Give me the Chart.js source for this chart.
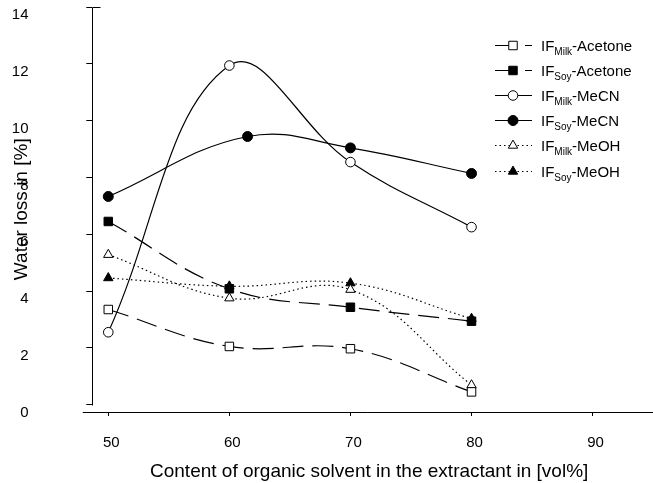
<!DOCTYPE html>
<html>
<head>
<meta charset="utf-8">
<script src="https://cdn.jsdelivr.net/npm/chart.js@4.4.0/dist/chart.umd.min.js"></script>
<style>
  html, body { margin: 0; padding: 0; background: #fff; }
  #wrap { width: 653px; height: 483px; }
</style>
</head>
<body>
<div id="wrap"><canvas id="chart" width="653" height="483"></canvas></div>
<script>
// values
const xValues = [50, 60, 70, 80];
const soyMeCNX = [50, 61.5, 70, 80];
const milkAcetone = [3.35, 2.05, 1.97, 0.45];
const soyAcetone = [6.45, 4.08, 3.43, 2.94];
const milkMeCN = [2.55, 11.94, 8.54, 6.25];
const soyMeCN = [7.33, 9.44, 9.04, 8.14];
const milkMeOH = [5.28, 3.75, 4.05, 0.69];
const soyMeOH = [4.46, 4.17, 4.28, 3.03];

const xTicks = [50, 60, 70, 80, 90];
const yTicks = [0, 2, 4, 6, 8, 10, 12, 14];

const legendSubs = ["Milk", "Soy", "Milk", "Soy", "Milk", "Soy"];
const legendSolvents = ["-Acetone", "-Acetone", "-MeCN", "-MeCN", "-MeOH", "-MeOH"];

const FONT = "'Liberation Sans', Arial, sans-serif";

const pts = (xs, ys) => xs.map((x, i) => ({ x, y: ys[i] }));

function series(xs, ys, style, filled, dash, radius) {
  return {
    data: pts(xs, ys),
    borderColor: "#000",
    borderWidth: 1.2,
    borderDash: dash,
    tension: 0.4,
    pointStyle: style,
    pointRadius: radius,
    pointBorderWidth: 1,
    pointBorderColor: "#000",
    pointBackgroundColor: filled ? "#000" : "#fff",
    backgroundColor: filled ? "#000" : "#fff",
    fill: false,
  };
}

const LONG_DASH = [21, 9];
const DOTS = [1.5, 3];

const datasets = [
  series(xValues, milkAcetone, "rect", false, LONG_DASH, 6),
  series(xValues, soyAcetone, "rect", true, LONG_DASH, 6),
  series(xValues, milkMeCN, "circle", false, [], 4.8),
  series(soyMeCNX, soyMeCN, "circle", true, [], 5),
  series(xValues, milkMeOH, "triangle", false, DOTS, 5.4),
  series(xValues, soyMeOH, "triangle", true, DOTS, 5.4),
];

const axesAndLegend = {
  id: "axesAndLegend",
  afterDraw(chart) {
    const { ctx, chartArea, scales } = chart;
    const y = scales.y;
    ctx.save();
    ctx.strokeStyle = "#000";
    ctx.lineWidth = 1;
    ctx.setLineDash([]);

    // offset y axis (0..14) and x axis running under it
    const ax = Math.round(chartArea.left) + 0.5;
    const top = Math.round(y.getPixelForValue(14)) + 0.5;
    const zero = Math.round(y.getPixelForValue(0)) + 0.5;
    const by = Math.round(chartArea.bottom) + 0.5;
    ctx.beginPath();
    ctx.moveTo(ax, top);
    ctx.lineTo(ax, zero);
    ctx.moveTo(ax, top);
    ctx.lineTo(ax + 8, top);
    ctx.moveTo(chartArea.left - 9.5, by);
    ctx.lineTo(chart.width, by);
    ctx.stroke();

    // legend with subscripts
    const rowY0 = 44.5;
    const rowStep = 25.2;
    datasets.forEach((ds, i) => {
      const ry = Math.round(rowY0 + i * rowStep) + 0.5;
      ctx.strokeStyle = "#000";
      ctx.lineWidth = 1.2;
      ctx.setLineDash(ds.borderDash);
      ctx.beginPath();
      ctx.moveTo(495, ry);
      ctx.lineTo(532, ry);
      ctx.stroke();
      ctx.setLineDash([]);
      ctx.fillStyle = ds.pointBackgroundColor;
      ctx.lineWidth = 1;
      Chart.helpers.drawPoint(ctx, {
        pointStyle: ds.pointStyle,
        radius: ds.pointRadius,
        rotation: 0,
        borderWidth: 1,
      }, 513, ry);

      ctx.fillStyle = "#000";
      ctx.textBaseline = "alphabetic";
      ctx.textAlign = "left";
      let tx = 541;
      const base = ry + 5.5;
      ctx.font = `15px ${FONT}`;
      ctx.fillText("IF", tx, base);
      tx += ctx.measureText("IF").width;
      ctx.font = `10px ${FONT}`;
      ctx.fillText(legendSubs[i], tx, base + 3.5);
      tx += ctx.measureText(legendSubs[i]).width;
      ctx.font = `15px ${FONT}`;
      ctx.fillText(legendSolvents[i], tx, base);
    });
    ctx.restore();
  },
};

new Chart(document.getElementById("chart"), {
  type: "line",
  data: { datasets },
  options: {
    responsive: false,
    animation: false,
    devicePixelRatio: 1,
    layout: { padding: { top: 5.7, left: 0, right: 0, bottom: 0 } },
    plugins: { legend: { display: false }, tooltip: { enabled: false } },
    scales: {
      x: {
        type: "linear",
        min: 48.68,
        max: 94.41,
        afterBuildTicks: (scale) => { scale.ticks = xTicks.map((v) => ({ value: v })); },
        afterFit: (scale) => {
          scale.height = 71.5;
          scale.paddingLeft = 0;
          scale.paddingRight = 0;
        },
        border: { display: false },
        grid: { drawOnChartArea: false, drawTicks: true, tickLength: 4.5, color: "#000", lineWidth: 1 },
        ticks: {
          color: "#000",
          font: { family: FONT, size: 15 },
          padding: 18,
          labelOffset: 3,
          maxRotation: 0,
          autoSkip: false,
        },
        title: {
          display: true,
          text: "Content of organic solvent in the extractant in [vol%]",
          color: "#000",
          font: { family: FONT, size: 19, weight: "normal" },
          padding: { top: 1, bottom: 0 },
        },
      },
      y: {
        min: -0.24,
        max: 14,
        afterBuildTicks: (scale) => { scale.ticks = yTicks.map((v) => ({ value: v })); },
        afterFit: (scale) => {
          scale.width = 92.3;
          scale.paddingTop = 0;
          scale.paddingBottom = 0;
        },
        border: { display: false },
        grid: { drawOnChartArea: false, drawTicks: true, tickLength: 6, color: "#000", lineWidth: 1 },
        ticks: {
          color: "#000",
          font: { family: FONT, size: 15 },
          padding: 57.8,
          labelOffset: 8,
          autoSkip: false,
        },
        title: {
          display: true,
          text: "Water loss in [%]",
          color: "#000",
          font: { family: FONT, size: 19, weight: "normal" },
          padding: { top: 10, bottom: 0 },
        },
      },
    },
  },
  plugins: [axesAndLegend],
});
</script>
</body>
</html>
